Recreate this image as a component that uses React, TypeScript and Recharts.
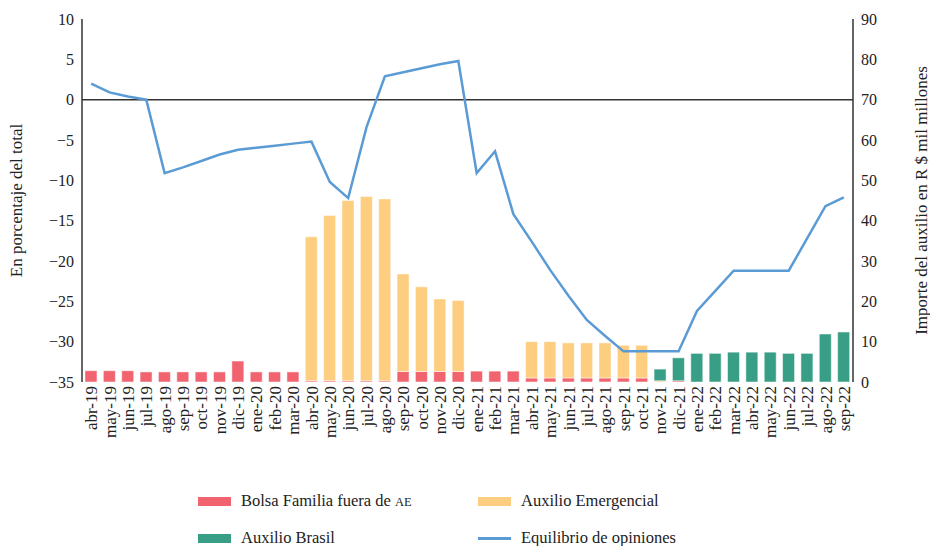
import { ComposedChart, Bar, Line, XAxis, YAxis, ReferenceLine } from "recharts";

// Month labels along the x axis
const months = [
  "abr-19", "may-19", "jun-19", "jul-19", "ago-19", "sep-19", "oct-19", "nov-19", "dic-19",
  "ene-20", "feb-20", "mar-20", "abr-20", "may-20", "jun-20", "jul-20", "ago-20", "sep-20", "oct-20", "nov-20", "dic-20",
  "ene-21", "feb-21", "mar-21", "abr-21", "may-21", "jun-21", "jul-21", "ago-21", "sep-21", "oct-21", "nov-21", "dic-21",
  "ene-22", "feb-22", "mar-22", "abr-22", "may-22", "jun-22", "jul-22", "ago-22", "sep-22",
];

// Right axis (R$ mil millones)
const bolsaFamilia = [
  2.8, 2.8, 2.8, 2.5, 2.5, 2.5, 2.5, 2.5, 5.2, 2.5, 2.5, 2.5,
  0.3, 0.3, 0.3, 0.3, 0.3, 2.6, 2.6, 2.6, 2.6,
  2.7, 2.7, 2.7, 1.0, 1.0, 1.0, 1.0, 1.0, 1.0, 1.0, 0, 0.3,
  0, 0, 0, 0, 0, 0, 0, 0, 0,
];
const auxilioEmergencial = [
  0, 0, 0, 0, 0, 0, 0, 0, 0, 0, 0, 0,
  35.7, 41.0, 44.7, 45.7, 45.1, 24.2, 21.0, 18.0, 17.6,
  0, 0, 0, 9.0, 9.0, 8.7, 8.7, 8.7, 8.1, 8.1, 0.3, 0,
  0, 0, 0, 0, 0, 0, 0, 0, 0,
];
const auxilioBrasil = [
  0, 0, 0, 0, 0, 0, 0, 0, 0, 0, 0, 0,
  0, 0, 0, 0, 0, 0, 0, 0, 0,
  0, 0, 0, 0, 0, 0, 0, 0, 0, 0, 2.9, 5.7,
  7.1, 7.1, 7.4, 7.4, 7.4, 7.1, 7.1, 11.9, 12.4,
];

// Left axis (% of total)
const equilibrio = [
  2.0, 0.9, 0.4, 0, -9.1, -8.4, -7.6, -6.8, -6.2,
  -5.95, -5.7, -5.45, -5.2, -10.2, -12.2, -3.4, 2.9, 3.4, 3.9, 4.4, 4.8,
  -9.1, -6.4, -14.2, -17.6, -21.1, -24.3, -27.3, -29.3, -31.2, -31.2, -31.2, -31.2,
  -26.2, -23.7, -21.2, -21.2, -21.2, -21.2, -17.2, -13.2, -12.1,
];

const leftTicks = [-35, -30, -25, -20, -15, -10, -5, 0, 5, 10];
const rightTicks = [0, 10, 20, 30, 40, 50, 60, 70, 80, 90];

const RED = "#F0636F";
const YELLOW = "#FDCD80";
const GREEN = "#389E85";
const BLUE = "#5B9BD5";
const FONT = "Liberation Serif, Times New Roman, Tinos, Noto Serif, DejaVu Serif, serif";

const data = months.map((m, i) => ({
  month: m,
  bolsa: bolsaFamilia[i],
  emergencial: auxilioEmergencial[i],
  brasil: auxilioBrasil[i],
  equilibrio: equilibrio[i],
}));

const fmtMinus = (v: number) => (v < 0 ? "\u2212" + Math.abs(v) : String(v));

function LegendItem({ color, line, children }: { color: string; line?: boolean; children: React.ReactNode }) {
  return (
    <div style={{ display: "flex", alignItems: "center", height: 20 }}>
      <div style={{ width: 33, height: line ? 3 : 9, background: color, marginRight: 10 }} />
      <span>{children}</span>
    </div>
  );
}

export default function App() {
  return (
    <div style={{ position: "absolute", left: 0, top: 0, width: 930, height: 546, background: "#fff", fontFamily: FONT }}>
      <ComposedChart
        width={930}
        height={546}
        data={data}
        margin={{ top: 19, right: 0, left: 0, bottom: 0 }}
        barSize={12}
      >
        <XAxis
          dataKey="month"
          interval={0}
          axisLine={false}
          tickLine={false}
          height={164}
          angle={-90}
          textAnchor="end"
          dy={-4}
          dx={-6}
          tick={{ fill: "#222", fontSize: 17, fontFamily: FONT }}
        />
        <YAxis
          yAxisId="left"
          domain={[-35, 10]}
          ticks={leftTicks}
          width={82}
          tickLine={false}
          axisLine={{ stroke: "#333", strokeWidth: 1.5 }}
          tickFormatter={fmtMinus}
          tick={{ fill: "#222", fontSize: 16, fontFamily: FONT }}
          label={{ value: "En porcentaje del total", angle: -90, position: "insideLeft", offset: 16, style: { textAnchor: "middle", fill: "#222", fontSize: 17, fontFamily: FONT } }}
        />
        <YAxis
          yAxisId="right"
          orientation="right"
          domain={[0, 90]}
          ticks={rightTicks}
          width={77}
          tickLine={false}
          axisLine={{ stroke: "#333", strokeWidth: 1.5 }}
          tick={{ fill: "#222", fontSize: 16, fontFamily: FONT }}
          label={{ value: "Importe del auxilio en R $ mil millones", angle: -90, position: "insideRight", offset: 9, style: { textAnchor: "middle", fill: "#222", fontSize: 17, fontFamily: FONT } }}
        />
        <ReferenceLine yAxisId="left" y={0} stroke="#333" strokeWidth={1.5} />
        <Bar yAxisId="right" dataKey="bolsa" stackId="a" fill={RED} stroke="#fff" strokeOpacity={0.5} isAnimationActive={false} />
        <Bar yAxisId="right" dataKey="emergencial" stackId="a" fill={YELLOW} stroke="#fff" strokeOpacity={0.5} isAnimationActive={false} />
        <Bar yAxisId="right" dataKey="brasil" stackId="a" fill={GREEN} stroke="#fff" strokeOpacity={0.5} isAnimationActive={false} />
        <Line yAxisId="left" dataKey="equilibrio" stroke={BLUE} strokeWidth={2.5} dot={false} isAnimationActive={false} />
      </ComposedChart>
      <div
        style={{
          position: "absolute",
          left: 198,
          top: 491,
          display: "grid",
          gridTemplateColumns: "280px 300px",
          rowGap: 17,
          fontSize: 16.5,
          color: "#222",
        }}
      >
        <LegendItem color={RED}>
          Bolsa Familia fuera de <span style={{ fontSize: 12.5 }}>AE</span>
        </LegendItem>
        <LegendItem color={YELLOW}>Auxilio Emergencial</LegendItem>
        <LegendItem color={GREEN}>Auxilio Brasil</LegendItem>
        <LegendItem color={BLUE} line>Equilibrio de opiniones</LegendItem>
      </div>
    </div>
  );
}
